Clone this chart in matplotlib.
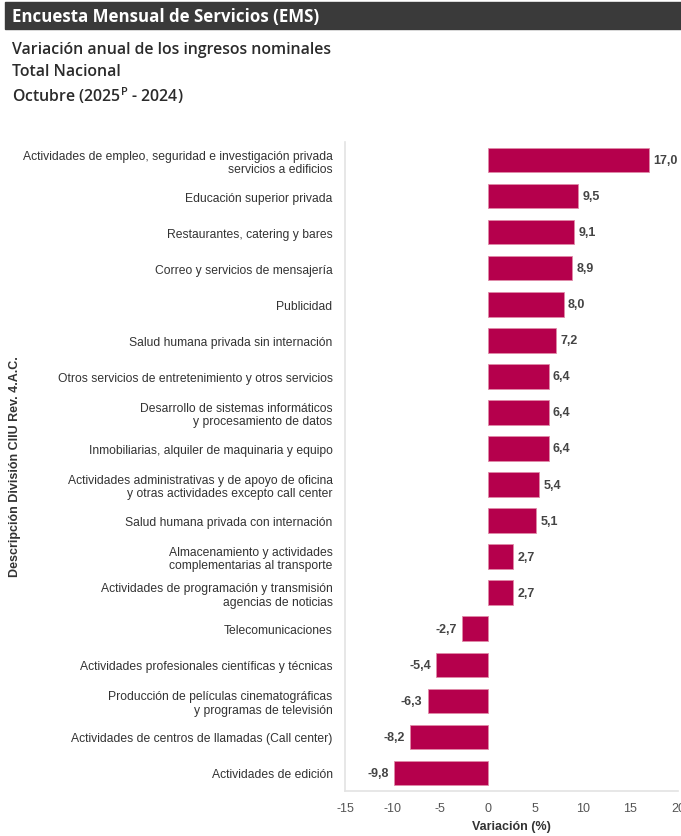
import matplotlib

matplotlib.use("Agg")
import matplotlib.pyplot as plt
from matplotlib.patches import Rectangle

categories = [
    "Actividades de empleo, seguridad e investigación privada\nservicios a edificios",
    "Educación superior privada",
    "Restaurantes, catering y bares",
    "Correo y servicios de mensajería",
    "Publicidad",
    "Salud humana privada sin internación",
    "Otros servicios de entretenimiento y otros servicios",
    "Desarrollo de sistemas informáticos\ny procesamiento de datos",
    "Inmobiliarias, alquiler de maquinaria y equipo",
    "Actividades administrativas y de apoyo de oficina\ny otras actividades excepto call center",
    "Salud humana privada con internación",
    "Almacenamiento y actividades\ncomplementarias al transporte",
    "Actividades de programación y transmisión\nagencias de noticias",
    "Telecomunicaciones",
    "Actividades profesionales científicas y técnicas",
    "Producción de películas cinematográficas\ny programas de televisión",
    "Actividades de centros de llamadas (Call center)",
    "Actividades de edición",
]
variacion = [17.0, 9.5, 9.1, 8.9, 8.0, 7.2, 6.4, 6.4, 6.4, 5.4, 5.1, 2.7, 2.7,
             -2.7, -5.4, -6.3, -8.2, -9.8]
x_ticks = [-15, -10, -5, 0, 5, 10, 15, 20]

bar_color = "#b5004c"
plt.rcParams["font.family"] = ["Liberation Sans", "DejaVu Sans"]

fig = plt.figure(figsize=(6.81, 8.37), dpi=100)

# header band and titles
fig.patches.append(Rectangle((5 / 681, 1 - 30 / 837), 676 / 681, 27 / 837,
                             transform=fig.transFigure, color="#3a3a3a", zorder=0))
fig.text(12 / 681, 1 - 17 / 837, "Encuesta Mensual de Servicios (EMS)", color="white",
         fontsize=12.2, fontweight="bold", family="Open Sans", va="center")
for y, txt in [(50, "Variación anual de los ingresos nominales"),
               (72, "Total Nacional"),
               (96, r"Octubre (2025$^{\mathregular{P}}$ - 2024)")]:
    fig.text(12 / 681, 1 - y / 837, txt, color="#2b2b2b", fontsize=11.4,
             family="Open Sans", fontweight="semibold", va="center")

ax = fig.add_axes([345 / 681, 1 - 792 / 837, 333 / 681, 649 / 837])
pos = list(range(len(categories)))
ax.barh(pos, variacion, height=0.68, color=bar_color, edgecolor="#e08aa8", linewidth=0.6)
ax.set_ylim(len(categories) - 0.5, -0.5)
ax.set_xlim(-15, 20)
ax.set_xticks(x_ticks)
ax.set_xticklabels([str(t) for t in x_ticks])
ax.set_yticks(pos)
ax.set_yticklabels(categories, fontsize=8.7, color="#333333", linespacing=1.15)
ax.tick_params(axis="y", length=0, pad=9)
ax.tick_params(axis="x", length=0, pad=8, labelsize=9, labelcolor="#555555")

for p, v in zip(pos, variacion):
    txt = f"{v:.1f}".replace(".", ",")
    off = 0.45 if v >= 0 else -0.55
    ax.text(v + off, p, txt, ha="left" if v >= 0 else "right", va="center",
            fontsize=9, fontweight="bold", color="#444444")

for side in ["top", "right"]:
    ax.spines[side].set_visible(False)
for side in ["left", "bottom"]:
    ax.spines[side].set_color("#e3e3e3")
    ax.spines[side].set_linewidth(1.2)

ax.set_xlabel("Variación (%)", fontsize=9, fontweight="bold", color="#333333", labelpad=4)
fig.text(15 / 681, 1 - 467 / 837, "Descripción División CIIU Rev. 4.A.C.", rotation=90,
         ha="center", va="center", fontsize=9, fontweight="bold", color="#333333")

fig.savefig("out.png", dpi=100)
